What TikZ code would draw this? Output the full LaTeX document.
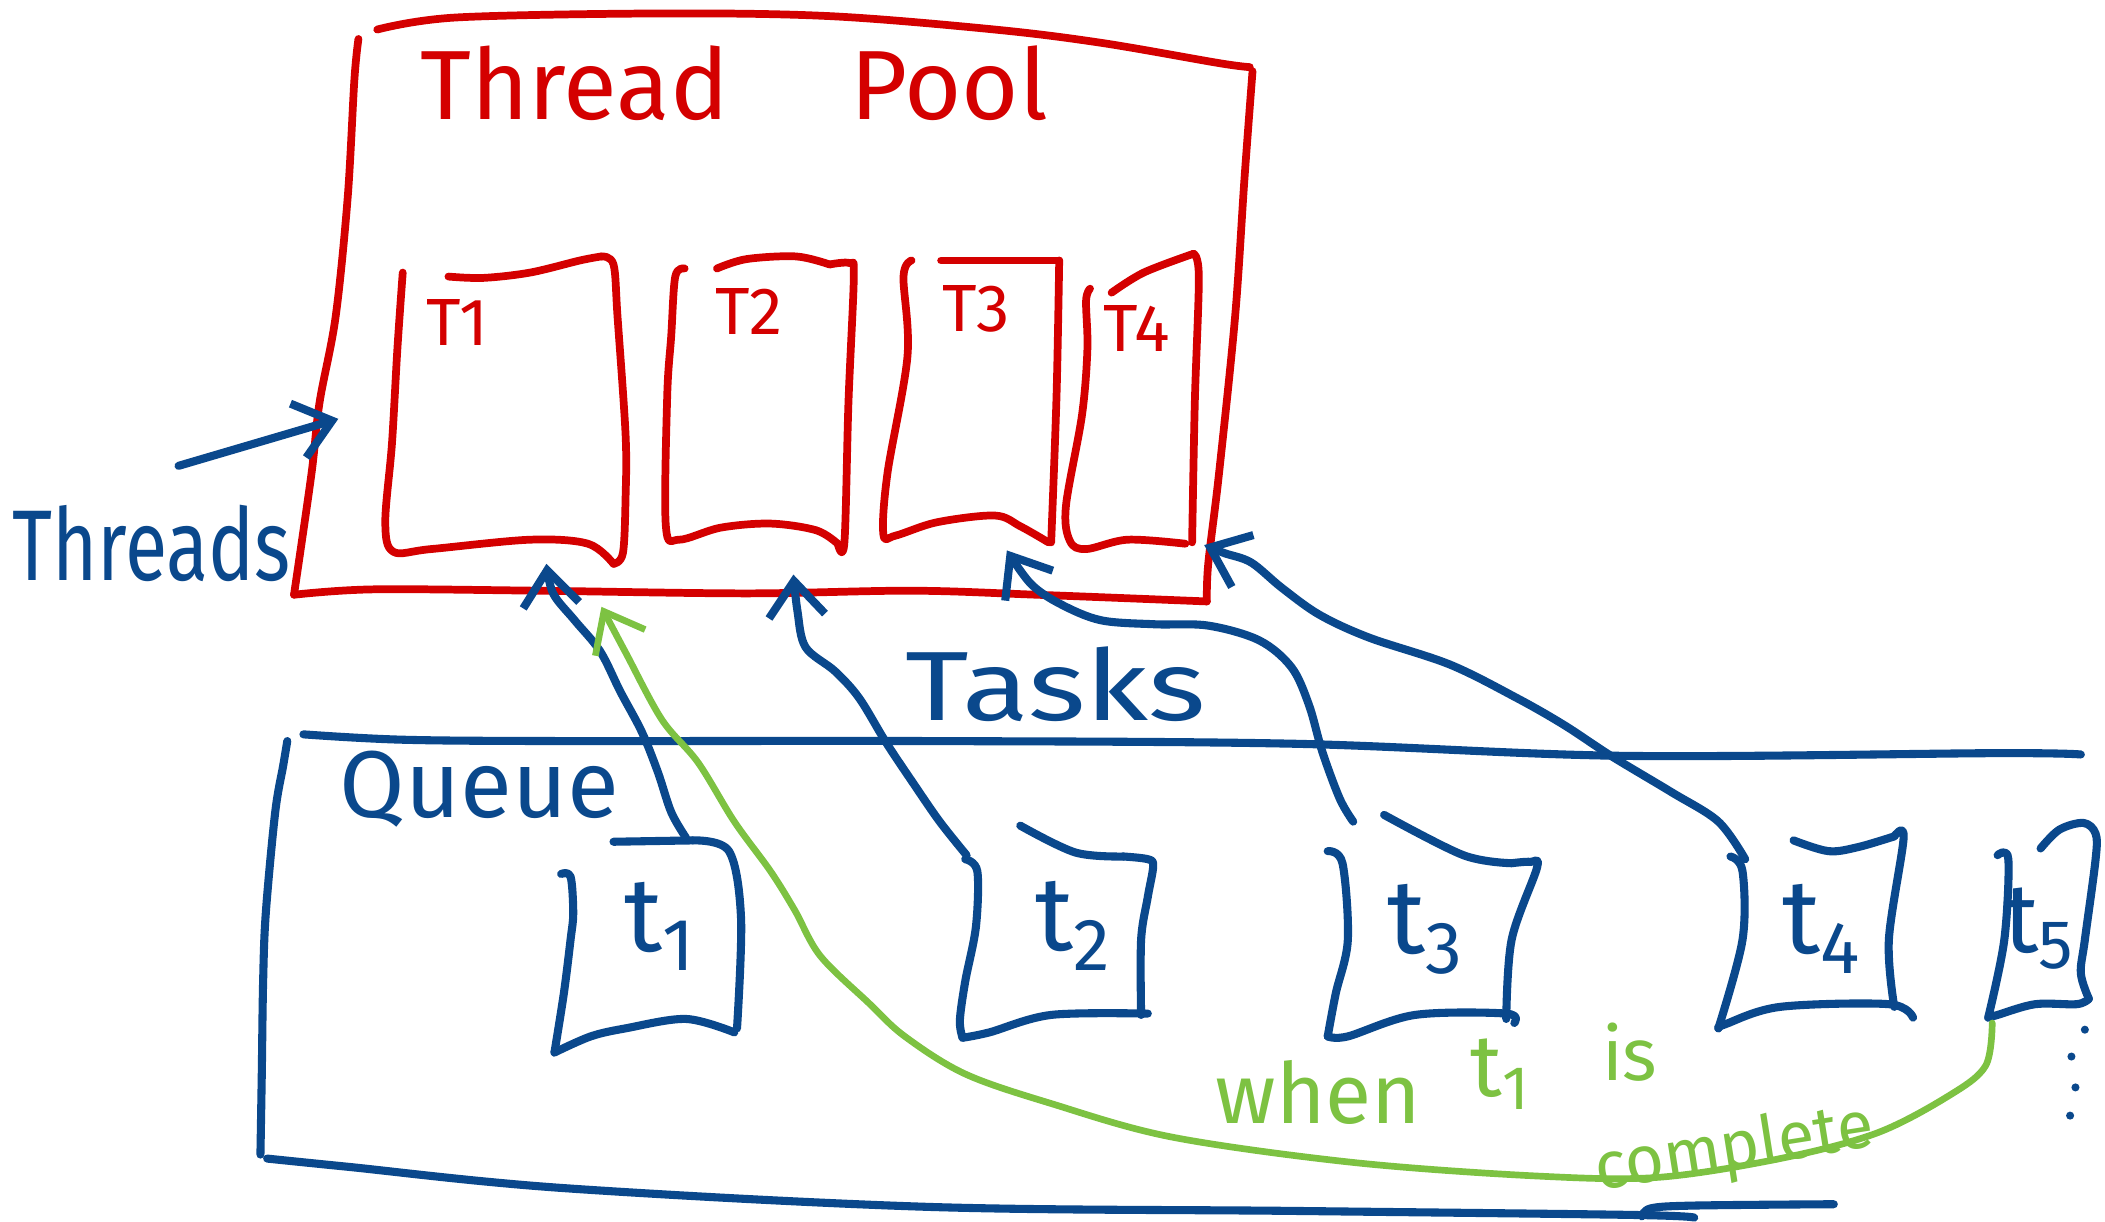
\documentclass[tikz,border=0pt]{standalone}
\usepackage{fontspec}
\setmainfont{Fira Sans}
\usetikzlibrary{arrows.meta}
\definecolor{pred}{RGB}{212,0,0}
\definecolor{pblue}{RGB}{10,72,140}
\definecolor{pgreen}{RGB}{125,194,66}
\begin{document}
\begin{tikzpicture}[x=0.013425cm,y=-0.013425cm,
  rl/.style={draw=pred,line width=2.2pt,line cap=round,line join=round},
  bl/.style={draw=pblue,line width=2.3pt,line cap=round,line join=round},
  gl/.style={draw=pgreen,line width=1.9pt,line cap=round,line join=round},
  barb/.style={-{Straight Barb[length=10pt,width=16pt]}},
  rtxt/.style={text=pred,inner sep=0pt},
  btxt/.style={text=pblue,inner sep=0pt},
  gtxt/.style={text=pgreen,inner sep=0pt},
  sm/.style={smooth,tension=0.55}]
\useasboundingbox[fill=white] (0,0) rectangle (1568,910);

% ---------- Thread pool (red) ----------
\draw[rl] plot[sm] coordinates {(281,22) (340,13) (494,10) (618,12) (741,22) (821,32) (908,47) (931,50)};
\draw[rl] plot[sm] coordinates {(933,53) (927,133) (920,236) (908,353) (900,420) (899,448)};
\draw[rl] plot[sm] coordinates {(899,448) (772,443) (679,440) (556,442) (401,440) (278,439) (219,443)};
\draw[rl] plot[sm] coordinates {(267,29) (264,59) (259,147) (250,236) (238,300) (232,353) (219,443)};

\node[rtxt,font=\fontsize{28}{30}\selectfont] (title1) at (428,62) {Thread};
\node[rtxt,font=\fontsize{28}{30}\selectfont] (title2) at (707,62) {Pool};

% T1
\draw[rl] plot[sm] coordinates {(300,203) (296,260) (292,330) (287,389) (293,411) (321,409) (395,402) (438,405) (457,420)};
\draw[rl] plot[sm] coordinates {(457,420) (464,412) (466,370) (466,324) (460,236) (457,197) (448,191)};
\draw[rl] plot[sm] coordinates {(448,191) (432,194) (395,203) (360,207) (334,206)};
\node[rtxt,font=\fontsize{19}{20}\selectfont] (lT1) at (341,240) {T1};
% T2
\draw[rl] plot[sm] coordinates {(510,200) (503,206) (500,250) (497,295) (496,392) (506,402) (537,393) (574,390) (608,395) (624,405)};
\draw[rl] plot[sm] coordinates {(624,405) (629,404) (632,300) (636,206) (633,196) (618,197)};
\draw[rl] plot[sm] coordinates {(618,197) (593,191) (556,193) (534,200)};
\node[rtxt,font=\fontsize{19}{20}\selectfont] (lT2) at (558,232) {T2};
% T3
\draw[rl] plot[sm] coordinates {(679,194) (673,206) (676,265) (661,353) (658,398) (667,399) (698,389) (741,384) (760,392) (781,404)};
\draw[rl] plot[sm] coordinates {(783,404) (787,295) (789,194)};
\draw[rl] plot[sm] coordinates {(789,194) (741,194) (701,194)};
\node[rtxt,font=\fontsize{19}{20}\selectfont] (lT3) at (727,230) {T3};
% T4
\draw[rl] plot[sm] coordinates {(812,215) (809,224) (810,260) (806,309) (794,377) (797,403) (809,409) (840,402) (883,405)};
\draw[rl] plot[sm] coordinates {(888,404) (890,300) (893,206) (889,189)};
\draw[rl] plot[sm] coordinates {(889,189) (852,203) (828,218)};
\node[rtxt,font=\fontsize{19}{20}\selectfont] (lT4) at (847,245) {T4};

% ---------- Threads label ----------
\node[btxt,font=\fontsize{22}{24}\selectfont,yscale=1.3] (threads) at (113,405) {Threads};
\coordinate (thS) at (133,347);
\coordinate (thE) at (252,312);
\draw[bl,barb] (thS) -- (thE);

% ---------- Queue (blue) ----------
\draw[bl] plot[sm] coordinates {(226,547) (300,551) (420,552) (692,552) (964,554) (1208,563) (1488,561) (1550,562)};
\draw[bl] plot[sm] coordinates {(214,552) (211,570) (205,605) (198,680) (196,731) (195,800) (194,860)};
\draw[bl] plot[sm] coordinates {(199,863) (258,869) (420,885) (692,899) (964,902) (1217,905) (1262,907)};
\draw[bl] plot[sm] coordinates {(1223,906) (1230,900) (1262,898) (1366,897)};
\node[btxt,font=\fontsize{27}{29}\selectfont] (queue) at (357,588) {Queue};
\node[btxt,font=\fontsize{28}{30}\selectfont,xscale=1.25] (tasks) at (786,510) {Tasks};

% t1
\draw[bl] plot[sm] coordinates {(418,651) (425,653) (427,680) (425,700) (420,740) (413,784)};
\draw[bl] plot[sm] coordinates {(413,784) (440,772) (466,766) (511,759) (547,769)};
\draw[bl] plot[sm] coordinates {(549,766) (552,684) (543,634) (516,626)};
\draw[bl] plot[sm] coordinates {(516,626) (457,627)};
\node[btxt,font=\fontsize{30}{32}\selectfont] (lt1) at (492,690) {t\textsubscript{1}};
% t2
\draw[bl] plot[sm] coordinates {(719,640) (728,649) (727,690) (719,731) (715,760) (717,773)};
\draw[bl] plot[sm] coordinates {(717,773) (737,769) (783,756) (855,755)};
\draw[bl] plot[sm] coordinates {(850,756) (850,700) (855,668) (859,645) (855,640) (837,638)};
\draw[bl] plot[sm] coordinates {(837,638) (801,635) (760,615)};
\node[btxt,font=\fontsize{30}{32}\selectfont] (lt2) at (800,690) {t\textsubscript{2}};
% t3
\draw[bl] plot[sm] coordinates {(989,634) (1000,643) (1004,700) (995,740) (989,772)};
\draw[bl] plot[sm] coordinates {(989,772) (1004,772) (1054,756) (1122,755) (1128,762)};
\draw[bl] plot[sm] coordinates {(1122,759) (1126,700) (1145,646) (1140,642) (1126,643)};
\draw[bl] plot[sm] coordinates {(1126,643) (1090,637) (1031,607)};
\node[btxt,font=\fontsize{30}{32}\selectfont] (lt3) at (1062,692) {t\textsubscript{3}};
% t4
\draw[bl] plot[sm] coordinates {(1289,638) (1298,649) (1298,700) (1280,766)};
\draw[bl] plot[sm] coordinates {(1280,766) (1285,763) (1326,750) (1407,748) (1425,758)};
\draw[bl] plot[sm] coordinates {(1411,750) (1407,700) (1418,624) (1411,623)};
\draw[bl] plot[sm] coordinates {(1411,623) (1384,631) (1362,634) (1336,626)};
\node[btxt,font=\fontsize{30}{32}\selectfont] (lt4) at (1357,692) {t\textsubscript{4}};
% t5
\draw[bl] plot[sm] coordinates {(1488,637) (1496,640) (1493,700) (1481,758)};
\draw[bl] plot[sm] coordinates {(1481,758) (1488,756) (1516,748) (1547,748) (1556,744)};
\draw[bl] plot[sm] coordinates {(1556,744) (1550,725) (1553,700) (1561,640) (1561,621) (1552,613) (1534,618) (1520,632)};
\node[btxt,font=\fontsize{28}{30}\selectfont] (lt5) at (1519,692) {t\textsubscript{5}};
% dots
\foreach \p in {(1553,767),(1543,787),(1546,810),(1542,831)} \fill[pblue] \p circle (3);

% ---------- task arrows (blue) ----------
\coordinate (a1s) at (511,624);  \coordinate (a1e) at (407,420);
\coordinate (a2s) at (720,637);  \coordinate (a2e) at (591,428);
\coordinate (a3s) at (1008,612); \coordinate (a3e) at (750,410);
\coordinate (a4s) at (1300,640); \coordinate (a4e) at (897,406);
\draw[bl,barb] plot[sm] coordinates {(a1s) (500,605) (490,575) (478,545) (462,515) (447,485) (428,462) (412,442) (a1e)};
\draw[bl,barb] plot[sm] coordinates {(a2s) (700,612) (680,583) (660,553) (640,520) (622,500) (600,482) (594,455) (a2e)};
\draw[bl,barb] plot[sm] coordinates {(a3s) (998,595) (985,560) (975,525) (962,497) (938,477) (900,466) (860,465) (820,462) (790,450) (768,435) (a3e)};
\draw[bl,barb] plot[sm] coordinates {(a4s) (1280,612) (1245,590) (1200,563) (1165,540) (1130,520) (1080,495) (1020,475) (983,458) (955,438) (932,419) (912,412) (a4e)};

% ---------- green loop ----------
\coordinate (gs) at (1484,762); \coordinate (ge) at (448,452);
\draw[gl,-{Straight Barb[length=10pt,width=16pt]}] plot[sm] coordinates {(gs) (1479,794) (1452,816) (1398,844) (1326,863) (1235,877) (1145,876) (1009,866) (873,847) (783,822) (719,800) (674,772) (647,747) (611,712) (592,678) (574,649) (547,612) (520,568) (493,536) (466,486) (ge)};
\node[gtxt,font=\fontsize{24}{26}\selectfont] (gwhen) at (982,814) {when};
\node[gtxt,font=\fontsize{25}{27}\selectfont] (gt1) at (1118,800) {t\textsubscript{1}};
\node[gtxt,font=\fontsize{21}{23}\selectfont] (gis) at (1214,784) {is};
\node[gtxt,font=\fontsize{19}{21}\selectfont,rotate=9] (gcomp) at (1292,857) {complete};
\end{tikzpicture}
\end{document}
